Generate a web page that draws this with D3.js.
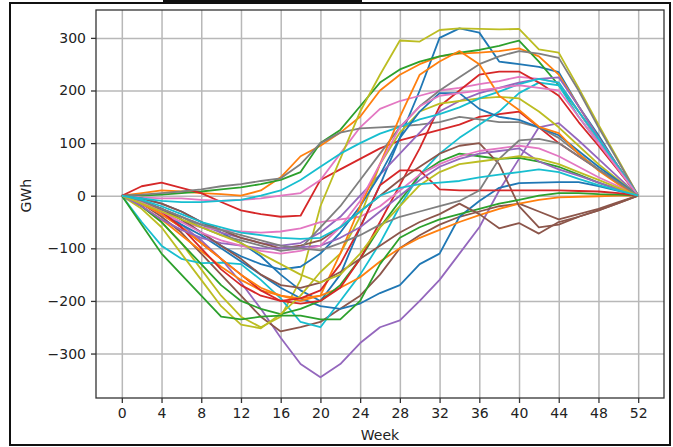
<!DOCTYPE html>
<html><head><meta charset="utf-8">
<script src="https://cdn.jsdelivr.net/npm/d3@7"></script>
<style>
html,body{margin:0;padding:0;background:#fff;}
svg{display:block;font-family:"DejaVu Sans",sans-serif;}
</style></head>
<body><svg id="c" width="673" height="447"></svg>
<script>
const weeks = [0,2,4,6,8,10,12,14,16,18,20,22,24,26,28,30,32,34,36,38,40,42,44,46,48,50,52];
const xTicks = [0,4,8,12,16,20,24,28,32,36,40,44,48,52];
const yTicks = [-300,-200,-100,0,100,200,300];
const colors = ["#1f77b4","#ff7f0e","#2ca02c","#d62728","#9467bd","#8c564b","#e377c2","#7f7f7f","#bcbd22","#17becf"];

const s00 = [0,-5,-15,-30,-50,-70,-90,-115,-150,-180,-200,-150,-60,20,110,200,300,318,310,255,250,245,235,170,115,55,0];
const s01 = [0,5,10,8,5,3,0,10,35,75,95,120,150,200,230,250,265,270,272,275,280,265,230,170,110,55,0];
const s02 = [0,0,2,5,8,12,16,22,30,45,100,125,170,215,240,255,265,272,277,285,295,255,210,160,105,55,0];
const s03 = [0,18,25,15,5,-12,-28,-35,-40,-38,30,50,70,90,105,115,125,135,150,155,160,130,100,75,50,25,0];
const s04 = [0,-10,-30,-55,-85,-120,-165,-215,-270,-320,-345,-320,-280,-250,-237,-200,-160,-110,-60,10,70,130,138,105,70,35,0];
const s05 = [0,-15,-40,-70,-110,-150,-190,-230,-258,-250,-240,-215,-190,-150,-100,-75,-55,-40,-30,-20,-15,-30,-45,-35,-25,-12,0];
const s06 = [0,-3,-5,-5,-8,-10,-8,-5,0,5,30,80,130,165,180,190,200,205,212,218,226,222,215,160,105,52,0];
const s07 = [0,2,5,8,12,18,22,28,33,60,100,120,128,130,132,135,140,150,145,140,140,130,110,80,50,25,0];
const s08 = [0,-20,-50,-90,-140,-190,-230,-250,-230,-160,-20,70,160,230,295,293,315,318,317,316,317,278,272,205,135,68,0];
const s09 = [0,-50,-95,-120,-128,-127,-130,-160,-195,-240,-250,-200,-150,-90,-20,40,80,110,135,160,195,215,210,150,100,50,0];
const s10 = [0,-15,-30,-55,-75,-100,-125,-150,-175,-195,-210,-215,-205,-185,-170,-130,-110,-40,-10,15,24,25,26,26,18,9,0];
const s11 = [0,-20,-45,-75,-105,-135,-160,-180,-190,-195,-190,-175,-155,-125,-100,-80,-65,-50,-37,-25,-15,-8,-3,-2,-1,0,0];
const s12 = [0,-20,-50,-90,-130,-170,-200,-215,-225,-215,-200,-170,-120,-60,-10,40,65,80,75,70,72,65,55,40,25,12,0];
const s13 = [0,-15,-35,-60,-90,-120,-150,-180,-200,-205,-200,-175,-120,-50,20,90,170,200,230,236,236,215,190,140,95,48,0];
const s14 = [0,-10,-25,-40,-55,-70,-80,-90,-95,-90,-70,-40,0,40,80,120,160,180,195,205,215,222,225,170,110,55,0];
const s15 = [0,-5,-15,-30,-50,-65,-80,-90,-100,-95,-85,-60,-30,0,30,55,80,95,100,60,-20,-60,-55,-40,-28,-14,0];
const s16 = [0,-15,-35,-50,-60,-65,-68,-70,-68,-62,-50,-45,-40,-20,10,40,60,75,85,90,95,90,75,55,35,18,0];
const s17 = [0,-10,-25,-40,-60,-75,-85,-95,-105,-100,-60,-20,30,80,130,170,200,225,250,265,275,270,262,200,130,65,0];
const s18 = [0,-25,-60,-110,-160,-210,-245,-252,-225,-190,-145,-110,-40,60,120,160,175,180,185,188,185,160,130,95,60,30,0];
const s19 = [0,-5,-10,-12,-12,-10,-8,0,10,30,55,80,100,118,131,145,155,168,185,198,212,222,215,160,108,54,0];
const s20 = [0,-10,-25,-45,-70,-95,-115,-130,-140,-135,-110,-70,-20,40,110,160,195,195,165,150,144,130,115,85,55,28,0];
const s21 = [0,-15,-35,-60,-90,-120,-150,-175,-190,-200,-190,-110,-20,60,150,230,255,275,250,190,163,131,119,80,48,22,0];
const s22 = [0,-55,-110,-150,-190,-230,-235,-230,-228,-228,-235,-235,-200,-130,-80,-60,-45,-35,-25,-15,-8,0,5,5,3,2,0];
const s23 = [0,-10,-30,-60,-100,-140,-170,-190,-200,-195,-180,-130,-60,20,48,48,12,10,10,10,10,10,10,9,8,5,0];
const s24 = [0,-20,-45,-65,-80,-90,-95,-100,-100,-98,-95,-80,-60,-30,0,30,55,70,80,85,90,65,50,38,25,12,0];
const s25 = [0,-10,-25,-45,-70,-95,-120,-150,-170,-175,-165,-145,-120,-95,-70,-50,-35,-15,-35,-62,-52,-72,-50,-40,-28,-14,0];
const s26 = [0,-12,-30,-50,-70,-85,-95,-105,-110,-105,-95,-60,-10,60,130,170,190,195,200,205,210,205,200,150,100,50,0];
const s27 = [0,-10,-25,-40,-55,-65,-75,-85,-95,-100,-104,-90,-75,-55,-40,-30,-20,-10,10,70,105,108,100,75,50,25,0];
const s28 = [0,-15,-30,-45,-60,-75,-90,-110,-130,-150,-165,-150,-110,-60,-20,20,45,60,65,70,75,70,60,45,30,15,0];
const s29 = [0,-8,-20,-35,-50,-60,-70,-75,-80,-82,-80,-60,-30,0,15,22,25,28,35,40,45,50,45,32,20,10,0];

const series = [s00,s01,s02,s03,s04,s05,s06,s07,s08,s09,s10,s11,s12,s13,s14,s15,s16,s17,s18,s19,s20,s21,s22,s23,s24,s25,s26,s27,s28,s29];

const svg = d3.select("#c");
const L = 96, R = 664, T = 10, B = 398;
const x = d3.scaleLinear().domain([-2.6, 54.6]).range([L, R]);
const y = d3.scaleLinear().domain([-384.5, 353]).range([B, T]);

// outer frame
svg.append("rect").attr("x",10).attr("y",3).attr("width",660).attr("height",442)
  .attr("fill","none").attr("stroke","#111").attr("stroke-width",2);
svg.append("line").attr("x1",163).attr("x2",362).attr("y1",1).attr("y2",1)
  .attr("stroke","#111").attr("stroke-width",2);

// grid
const gx = svg.append("g").attr("transform",`translate(0,${B})`)
  .call(d3.axisBottom(x).tickValues(xTicks).tickSize(-(B-T)).tickFormat(""));
gx.select(".domain").remove();
gx.selectAll("line").attr("stroke","#b8b8b8").attr("stroke-width",1.5);
const gy = svg.append("g").attr("transform",`translate(${L},0)`)
  .call(d3.axisLeft(y).tickValues(yTicks).tickSize(-(R-L)).tickFormat(""));
gy.select(".domain").remove();
gy.selectAll("line").attr("stroke","#b8b8b8").attr("stroke-width",1.5);

// lines
const line = d3.line().x((d,i)=>x(weeks[i])).y(d=>y(d));
const plot = svg.append("g");
series.forEach((s,i)=>{
  plot.append("path").datum(s).attr("d",line).attr("fill","none")
    .attr("stroke",colors[i%10]).attr("stroke-width",1.8).attr("stroke-linejoin","round");
});

// frame
svg.append("rect").attr("x",L).attr("y",T).attr("width",R-L).attr("height",B-T)
  .attr("fill","none").attr("stroke","#333").attr("stroke-width",1.3);

// axes
const fmt = d => d < 0 ? "\u2212" + Math.abs(d) : String(d);
const ax = svg.append("g").attr("transform",`translate(0,${B})`)
  .call(d3.axisBottom(x).tickValues(xTicks).tickSize(5).tickPadding(5).tickFormat(fmt));
ax.select(".domain").remove();
ax.selectAll("line").attr("stroke","#333").attr("stroke-width",1.3);
ax.selectAll("text").attr("font-size",14).attr("fill","#222").attr("font-family","DejaVu Sans");
const ay = svg.append("g").attr("transform",`translate(${L},0)`)
  .call(d3.axisLeft(y).tickValues(yTicks).tickSize(5).tickPadding(5).tickFormat(fmt));
ay.select(".domain").remove();
ay.selectAll("line").attr("stroke","#333").attr("stroke-width",1.3);
ay.selectAll("text").attr("font-size",14).attr("fill","#222").attr("font-family","DejaVu Sans");

svg.append("text").attr("x",(L+R)/2).attr("y",440).attr("text-anchor","middle")
  .attr("font-size",14).attr("fill","#222").text("Week");
svg.append("text").attr("transform",`translate(31,${y(0)}) rotate(-90)`).attr("text-anchor","middle")
  .attr("font-size",14).attr("fill","#222").text("GWh");
</script></body></html>
